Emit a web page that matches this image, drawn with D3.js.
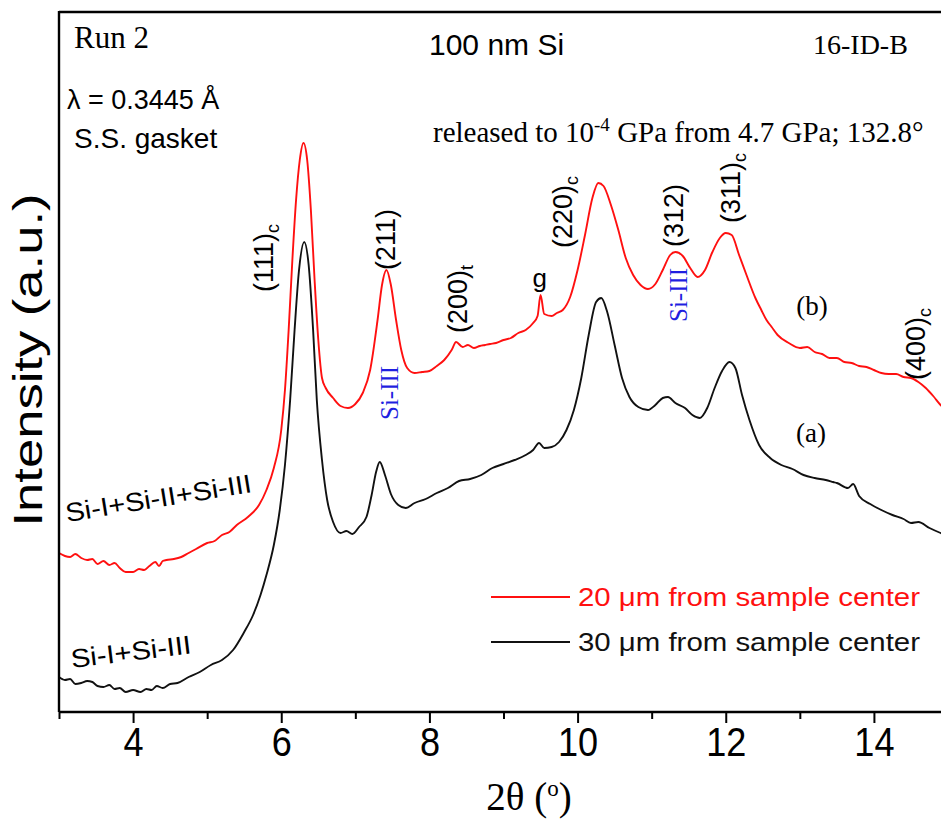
<!DOCTYPE html>
<html>
<head>
<meta charset="utf-8">
<script src="https://cdn.jsdelivr.net/npm/d3@7/dist/d3.min.js"></script>
<style>
  html, body { margin: 0; padding: 0; background: #fff; }
  svg { display: block; }
</style>
</head>
<body>
<svg id="chart" width="941" height="820"></svg>
<script>
// ---- Diffraction patterns: 2θ (degrees) and intensity (a.u., offset for stacking) ----

// (b) 20 µm from sample center
const angleB = [3.00, 3.08, 3.15, 3.22, 3.30, 3.38, 3.45, 3.52, 3.60, 3.68, 3.75, 3.82, 3.90, 4.00, 4.08, 4.15, 4.22,
  4.30, 4.35, 4.40, 4.45, 4.55, 4.65, 4.75, 4.85, 5.00, 5.10, 5.20, 5.30, 5.40, 5.55, 5.70, 5.80, 5.90, 6.00, 6.05,
  6.10, 6.15, 6.20, 6.25, 6.30, 6.35, 6.40, 6.45, 6.50, 6.55, 6.60, 6.70, 6.80, 6.90, 7.00, 7.10, 7.20, 7.30, 7.36,
  7.42, 7.48, 7.55, 7.62, 7.70, 7.80, 7.90, 8.00, 8.10, 8.20, 8.30, 8.36, 8.45, 8.52, 8.60, 8.68, 8.75, 8.82, 8.90,
  9.00, 9.10, 9.20, 9.30, 9.40, 9.46, 9.50, 9.55, 9.65, 9.72, 9.80, 9.90, 10.00, 10.10, 10.20, 10.28, 10.35, 10.45,
  10.55, 10.65, 10.75, 10.85, 10.95, 11.05, 11.15, 11.25, 11.32, 11.42, 11.52, 11.62, 11.72, 11.82, 11.92, 12.00,
  12.08, 12.18, 12.28, 12.40, 12.48, 12.55, 12.62, 12.70, 12.85, 13.00, 13.10, 13.20, 13.30, 13.40, 13.50, 13.60,
  13.70, 13.80, 13.90, 14.00, 14.10, 14.20, 14.30, 14.40, 14.50, 14.60, 14.70, 14.80, 14.90, 15.00];
const intensityB = [31.8, 31.2, 31.0, 31.6, 30.8, 30.4, 30.6, 29.6, 30.2, 29.4, 29.8, 28.8, 28.0, 28.0, 28.6, 28.4, 29.2,
  30.0, 29.2, 30.2, 30.4, 30.6, 31.0, 31.8, 32.6, 33.8, 34.2, 35.4, 36.0, 37.4, 39.0, 41.4, 44.4, 48.8, 56.4, 64.4,
  76.4, 90.4, 102.4, 110.4, 113.8, 110.4, 100.4, 86.4, 74.4, 66.8, 64.8, 62.8, 61.2, 60.8, 61.6, 63.8, 68.4, 78.4, 85.4,
  88.4, 85.4, 78.4, 72.4, 68.8, 67.8, 68.0, 68.2, 69.2, 70.4, 72.4, 74.0, 73.0, 73.4, 72.8, 73.2, 73.4, 73.6, 73.8,
  74.4, 74.8, 75.8, 76.4, 77.8, 79.2, 83.4, 79.6, 79.2, 79.8, 80.4, 83.0, 88.4, 95.4, 102.8, 105.8, 105.2, 101.4,
  96.4, 90.8, 87.4, 85.4, 84.6, 85.6, 88.4, 91.4, 92.0, 91.2, 88.8, 87.0, 88.4, 92.0, 94.8, 95.8,
  95.4, 91.4, 87.4, 82.8, 80.4, 78.4, 77.0, 75.4, 73.8, 72.8, 73.0, 72.0, 71.6, 70.8, 70.8, 70.0,
  69.8, 69.2, 69.0, 68.4, 67.8, 67.6, 67.6, 67.0, 66.8, 66.0, 64.8, 63.2, 61.4, 60.0];

// (a) 30 µm from sample center
const angleA = [3.00, 3.08, 3.15, 3.22, 3.30, 3.38, 3.45, 3.52, 3.60, 3.68, 3.75, 3.82, 3.90, 4.00, 4.10, 4.18, 4.25,
  4.32, 4.40, 4.50, 4.60, 4.75, 4.90, 5.05, 5.20, 5.35, 5.50, 5.62, 5.72, 5.80, 5.90, 5.98, 6.05, 6.12, 6.18, 6.24,
  6.31, 6.37, 6.43, 6.48, 6.55, 6.62, 6.70, 6.80, 6.88, 6.96, 7.05, 7.15, 7.22, 7.28, 7.33, 7.40, 7.48, 7.58, 7.68,
  7.80, 7.95, 8.10, 8.25, 8.40, 8.55, 8.70, 8.85, 9.00, 9.15, 9.30, 9.40, 9.48, 9.55, 9.65, 9.75, 9.85, 9.95, 10.05,
  10.15, 10.25, 10.32, 10.40, 10.50, 10.60, 10.70, 10.82, 10.95, 11.05, 11.15, 11.22, 11.32, 11.45, 11.55, 11.65,
  11.75, 11.85, 11.95, 12.05, 12.13, 12.22, 12.32, 12.45, 12.60, 12.75, 12.90, 13.05, 13.20, 13.35, 13.45, 13.50,
  13.65, 13.72, 13.80, 13.95, 14.10, 14.25, 14.40, 14.50, 14.60, 14.75, 14.90, 15.00];
const intensityA = [7.0, 6.4, 6.6, 5.6, 5.8, 6.2, 6.0, 5.2, 5.0, 5.4, 4.6, 4.8, 4.0, 4.4, 4.0, 4.6, 4.4,
  5.2, 4.8, 5.6, 5.8, 7.0, 8.0, 9.4, 10.4, 12.4, 16.0, 19.4, 23.4, 27.4, 33.4, 40.4, 49.4, 62.4, 76.4, 88.4,
  94.0, 89.4, 76.4, 62.4, 50.4, 42.4, 38.0, 35.8, 36.2, 35.6, 37.0, 39.0, 43.4, 48.0, 50.0, 47.4, 43.6, 41.4, 40.8,
  41.8, 42.6, 43.8, 44.8, 46.2, 46.6, 47.4, 48.8, 49.6, 50.4, 51.4, 52.4, 53.8, 52.8, 53.0, 54.0, 56.4, 60.4, 66.8,
  75.4, 82.0, 82.8, 80.0, 73.4, 66.8, 63.0, 61.0, 60.4, 61.4, 62.8, 63.0, 61.8, 60.8, 59.4, 58.8,
  60.8, 64.8, 68.2, 70.0, 68.8, 63.4, 58.4, 53.4, 50.8, 49.4, 48.6, 47.4, 46.8, 46.4, 46.0, 45.8,
  44.8, 45.6, 43.2, 41.6, 40.4, 39.4, 38.6, 37.8, 38.0, 36.8, 35.8, 35.2];

// Axis ticks
const xDomain = [3, 15];
const majorTicks = [4, 6, 8, 10, 12, 14];
const minorTicks = [3, 5, 7, 9, 11, 13];

// Peak labels, anchored in data coordinates (2θ, intensity)
const peakLabels = [
  { text: "(111)", sub: "c", at: [5.89, 84.0] },
  { text: "(211)", sub: "",  at: [7.54, 88.4] },
  { text: "(200)", sub: "t", at: [8.51, 75.8] },
  { text: "(220)", sub: "c", at: [9.93, 92.8] },
  { text: "(312)", sub: "",  at: [11.42, 93.0] },
  { text: "(311)", sub: "c", at: [12.19, 97.8] },
  { text: "(400)", sub: "c", at: [14.69, 66.4] }
];
const phaseLabels = [
  { text: "Si-III", at: [7.58, 58.4] },
  { text: "Si-III", at: [11.48, 78.0] }
];

const svg = d3.select("#chart");
const width = 941, height = 820;
const margin = { left: 59, top: 12, bottom: 108 };

const x = d3.scaleLinear().domain(xDomain).range([margin.left, 948]);
const y = d3.scaleLinear().domain([0, 140]).range([height - margin.bottom, margin.top]);

svg.append("defs").append("clipPath").attr("id", "plot-clip")
  .append("rect")
  .attr("x", margin.left).attr("y", margin.top)
  .attr("width", width - margin.left).attr("height", y(0) - margin.top);

// ---- curves ----
const line = d3.line().x(d => x(d[0])).y(d => y(d[1])).curve(d3.curveMonotoneX);
const plot = svg.append("g").attr("clip-path", "url(#plot-clip)");

plot.append("path")
  .datum(angleA.map((a, i) => [a, intensityA[i]]))
  .attr("d", line).attr("fill", "none")
  .attr("stroke", "#111").attr("stroke-width", 1.9).attr("stroke-linejoin", "round");

plot.append("path")
  .datum(angleB.map((a, i) => [a, intensityB[i]]))
  .attr("d", line).attr("fill", "none")
  .attr("stroke", "#ff1010").attr("stroke-width", 1.9).attr("stroke-linejoin", "round");

// ---- frame and axes ----
const frame = svg.append("g").attr("stroke", "#000").attr("stroke-width", 2.4).attr("fill", "none");
frame.append("line").attr("x1", margin.left).attr("x2", margin.left).attr("y1", margin.top - 1).attr("y2", y(0));
frame.append("line").attr("x1", margin.left).attr("x2", width).attr("y1", margin.top).attr("y2", margin.top);

const xAxis = svg.append("g")
  .attr("transform", `translate(0,${y(0)})`)
  .call(d3.axisBottom(x).tickValues(majorTicks).tickSize(11).tickSizeOuter(0).tickPadding(4).tickFormat(d3.format("d")));
xAxis.select(".domain").attr("stroke-width", 2.4).attr("d", `M${margin.left},0H${width}`);
xAxis.selectAll(".tick line").attr("stroke-width", 2);
xAxis.selectAll(".tick text")
  .attr("font-family", "Arial, 'Liberation Sans', sans-serif")
  .attr("font-size", 41).attr("fill", "#000")
  .attr("transform", "scale(0.88,1)");

const xMinor = svg.append("g")
  .attr("transform", `translate(0,${y(0)})`)
  .call(d3.axisBottom(x).tickValues(minorTicks).tickSize(7).tickFormat(""));
xMinor.select(".domain").remove();
xMinor.selectAll(".tick line").attr("stroke-width", 2);

svg.append("text")
  .attr("x", 529).attr("y", 810)
  .attr("text-anchor", "middle")
  .attr("font-family", "'Times New Roman', 'Liberation Serif', serif")
  .attr("font-size", 39)
  .call(t => {
    t.append("tspan").text("2θ (");
    t.append("tspan").attr("dy", -14).attr("font-size", 23).text("o");
    t.append("tspan").attr("dy", 14).text(")");
  });

svg.append("text")
  .attr("transform", "translate(42,360) rotate(-90)")
  .attr("text-anchor", "middle")
  .attr("font-family", "Arial, 'Liberation Sans', sans-serif")
  .attr("font-size", 40)
  .attr("textLength", 333).attr("lengthAdjust", "spacingAndGlyphs")
  .text("Intensity (a.u.)");

// ---- headers ----
const serif = "'Times New Roman', 'Liberation Serif', serif";
const sans = "Arial, 'Liberation Sans', sans-serif";

svg.append("text").attr("x", 74).attr("y", 48).attr("font-family", serif).attr("font-size", 31).text("Run 2");
svg.append("text").attr("x", 67).attr("y", 109).attr("font-family", sans).attr("font-size", 27).text("λ = 0.3445 Å");
svg.append("text").attr("x", 74).attr("y", 148).attr("font-family", sans).attr("font-size", 28).text("S.S. gasket");
svg.append("text").attr("x", 429).attr("y", 55).attr("font-family", sans).attr("font-size", 30).text("100 nm Si");
svg.append("text").attr("x", 813).attr("y", 54).attr("font-family", serif).attr("font-size", 28).text("16-ID-B");
svg.append("text").attr("x", 433).attr("y", 142).attr("font-family", serif).attr("font-size", 29)
  .call(t => {
    t.append("tspan").text("released to 10");
    t.append("tspan").attr("dy", -11).attr("font-size", 19).text("-4");
    t.append("tspan").attr("dy", 11).text(" GPa from 4.7 GPa; 132.8°");
  });

// ---- peak labels (rotated, reading upward) ----
peakLabels.forEach(p => {
  const t = svg.append("text")
    .attr("transform", `translate(${x(p.at[0])},${y(p.at[1])}) rotate(-90)`)
    .attr("font-family", sans).attr("font-size", 27).attr("fill", "#000");
  t.append("tspan").text(p.text);
  if (p.sub) t.append("tspan").attr("dy", 6).attr("font-size", 18).text(p.sub);
});

phaseLabels.forEach(p => {
  svg.append("text")
    .attr("transform", `translate(${x(p.at[0])},${y(p.at[1])}) rotate(-90)`)
    .attr("font-family", serif).attr("font-size", 25).attr("fill", "#1f1fe0")
    .text(p.text);
});

svg.append("text").attr("x", x(9.49)).attr("y", y(85)).attr("text-anchor", "middle")
  .attr("font-family", sans).attr("font-size", 26).text("g");

svg.append("text").attr("x", x(13.165)).attr("y", y(79.4)).attr("text-anchor", "middle")
  .attr("font-family", serif).attr("font-size", 27).text("(b)");
svg.append("text").attr("x", x(13.15)).attr("y", y(54.0)).attr("text-anchor", "middle")
  .attr("font-family", serif).attr("font-size", 27).text("(a)");

svg.append("text")
  .attr("transform", `translate(${x(3.108)},${y(38)}) rotate(-9.2)`)
  .attr("font-family", sans).attr("font-size", 26)
  .attr("textLength", 188).attr("lengthAdjust", "spacingAndGlyphs")
  .text("Si-I+Si-II+Si-III");
svg.append("text")
  .attr("transform", `translate(${x(3.175)},${y(8.8)}) rotate(-7)`)
  .attr("font-family", sans).attr("font-size", 26)
  .attr("textLength", 121).attr("lengthAdjust", "spacingAndGlyphs")
  .text("Si-I+Si-III");

// ---- legend ----
const legendItems = [
  { label: "20 μm from sample center", color: "#ff1010" },
  { label: "30 μm from sample center", color: "#111" }
];
const legend = svg.append("g");
legendItems.forEach((d, i) => {
  const ly = 597 + i * 45;
  legend.append("line").attr("x1", 491).attr("x2", 570).attr("y1", ly).attr("y2", ly)
    .attr("stroke", d.color).attr("stroke-width", 2);
  legend.append("text").attr("x", 578).attr("y", ly + 9)
    .attr("font-family", sans).attr("font-size", 26).attr("fill", d.color)
    .attr("textLength", 342).attr("lengthAdjust", "spacingAndGlyphs")
    .text(d.label);
});
</script>
</body>
</html>
